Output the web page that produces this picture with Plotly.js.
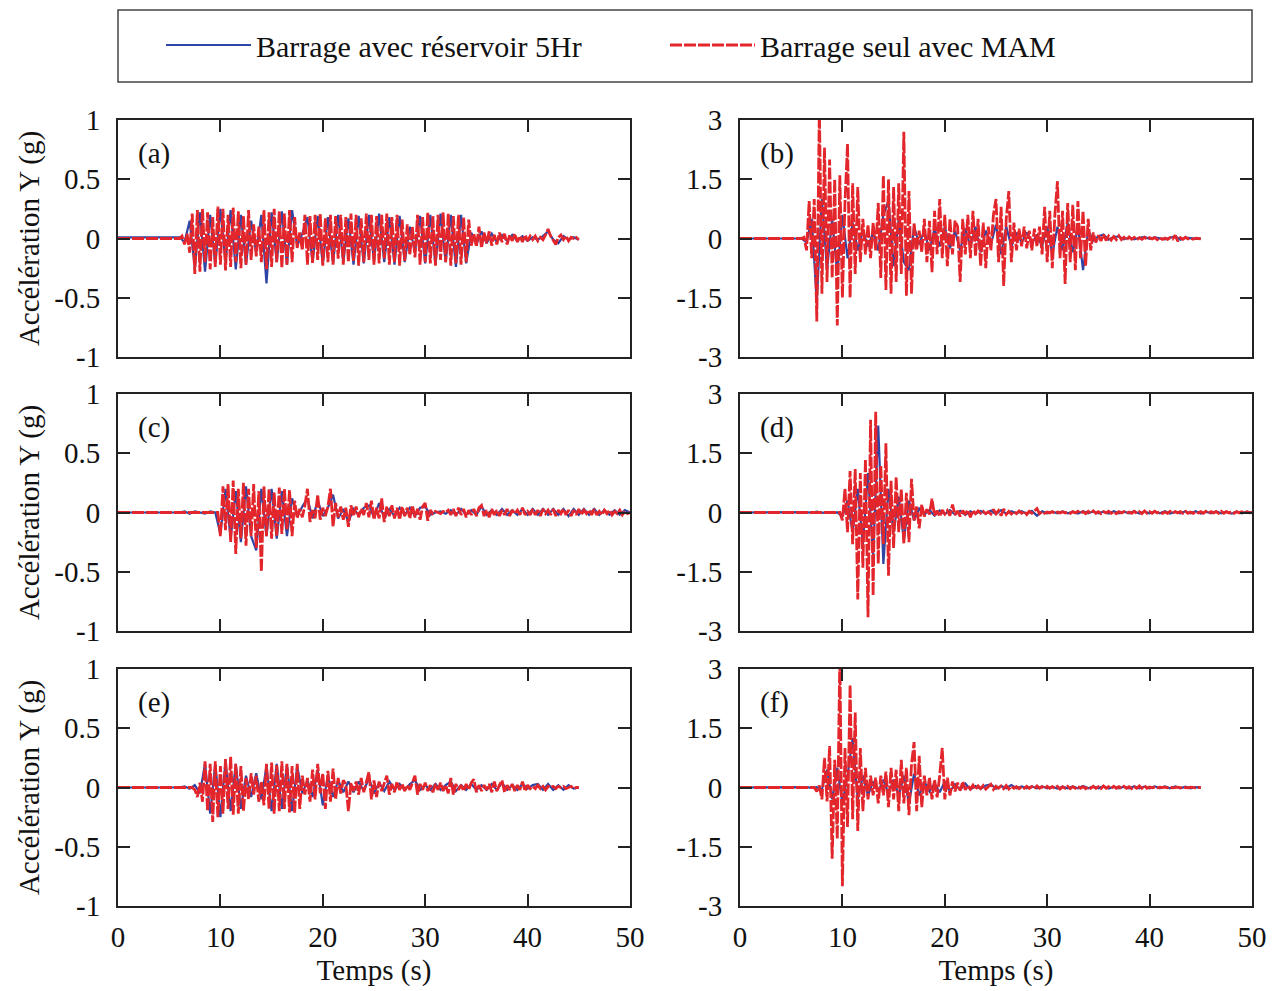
<!DOCTYPE html>
<html><head><meta charset="utf-8">
<script src="https://cdn.plot.ly/plotly-3.0.1.min.js"></script>
<style>html,body{margin:0;padding:0;background:#fff}#chart{width:1273px;height:991px}</style>
</head><body><div id="chart"></div>
<script>
// ---------- labels ----------
const panelLabels = ['(a)', '(b)', '(c)', '(d)', '(e)', '(f)'];
const seriesNames = ['Barrage avec réservoir 5Hr', 'Barrage seul avec MAM'];
const xTickVals = [0, 10, 20, 30, 40, 50];
const xTickText = ['0', '10', '20', '30', '40', '50'];
const yTickValsLeft = [-1, -0.5, 0, 0.5, 1];
const yTickTextLeft = ['-1', '-0.5', '0', '0.5', '1'];
const yTickValsRight = [-3, -1.5, 0, 1.5, 3];
const yTickTextRight = ['-3', '-1.5', '0', '1.5', '3'];
const xTitle = 'Temps (s)';
const yTitle = 'Accélération Y (g)';

// ---------- sampling (s) ----------
const redStep = 0.25;   // MAM series sampled every 0.25 s
const blueStep = 0.5;   // reservoir series sampled every 0.5 s
const recordStart = 0;  // signal holds its first value back to t = 0

// ---------- (a) ----------
const redStartA = 6;
const redA = [
 0, 0.02, -0.05, 0.04,
 -0.12, 0.21, -0.3, 0.24,
 -0.28, 0.25, -0.2, 0.22,
 -0.26, 0.18, -0.24, 0.27,
 -0.22, 0.25, -0.27, 0.2,
 -0.24, 0.26, -0.2, 0.23,
 -0.25, 0.19, -0.22, 0.24,
 -0.18, 0.12, -0.15, 0.1,
 -0.2, 0.24, -0.26, 0.22,
 -0.24, 0.25, -0.2, 0.23,
 -0.25, 0.21, -0.22, 0.24,
 -0.2, 0.18, -0.08, 0.05,
 -0.1, 0.2, -0.22, 0.19,
 -0.21, 0.2, -0.18, 0.21,
 -0.23, 0.17, -0.2, 0.2,
 -0.22, 0.19, -0.17, 0.2,
 -0.22, 0.18, -0.2, 0.21,
 -0.19, 0.2, -0.23, 0.17,
 -0.2, 0.21, -0.18, 0.2,
 -0.22, 0.19, -0.21, 0.2,
 -0.17, 0.21, -0.22, 0.18,
 -0.2, 0.2, -0.23, 0.16,
 -0.19, 0.12, -0.14, 0.1,
 -0.16, 0.2, -0.22, 0.18,
 -0.2, 0.22, -0.21, 0.19,
 -0.23, 0.2, -0.18, 0.22,
 -0.2, 0.21, -0.23, 0.19,
 -0.21, 0.2, -0.22, 0.18,
 -0.2, 0.16, -0.06, 0.04,
 -0.07, 0.1, -0.08, 0.05,
 -0.04, 0.06, -0.06, 0.03,
 -0.05, 0.05, -0.03, 0.04,
 -0.05, 0.03, -0.02, 0.04,
 -0.03, 0.02, -0.03, 0.03,
 -0.02, 0.02, -0.01, 0.02,
 -0.02, 0.01, -0.01, 0.03,
 0.08, 0.02, -0.02, -0.05,
 0.01, 0.03, -0.01, 0.02,
 -0.02, 0.01, 0, 0.01,
 -0.01
];
const blueStartA = 6;
const blueA = [
 0.01, -0.03, 0.15, -0.25, 0.22, -0.28, 0.2, -0.22, 0.25, -0.2,
 0.24, -0.26, 0.2, -0.22, 0.15, -0.12, 0.2, -0.38, 0.22, -0.2,
 0.23, -0.22, 0.24, -0.06, 0.04, 0.18, -0.2, 0.19, -0.22, 0.18,
 -0.21, 0.2, -0.2, 0.17, -0.22, 0.19, -0.21, 0.2, -0.19, 0.21,
 -0.2, 0.18, -0.22, 0.19, -0.2, 0.1, -0.12, 0.19, -0.21, 0.2,
 -0.22, 0.21, -0.2, 0.2, -0.24, 0.2, -0.21, 0.05, -0.05, 0.06,
 -0.04, 0.04, -0.03, 0.03, -0.02, 0.03, -0.02, 0.02, -0.02, 0.01,
 -0.01, 0.02, 0.06, -0.01, -0.04, 0.02, -0.01, 0.01, -0.01
];

// ---------- (b) ----------
const redStartB = 6;
const redB = [
 0, 0.03, -0.3, 0.95,
 -0.5, 1.0, -2.1, 3.3,
 -1.4, 2.3, -1.1, 2.0,
 -1.0, 1.5, -2.2, 1.6,
 -1.5, 0.9, 2.4, -1.5,
 1.4, -0.9, 1.3, -0.6,
 0.5, -0.4, 0.35, -0.5,
 0.4, -0.3, 0.9, -1.0,
 1.6, -1.3, 1.5, -1.4,
 1.3, -1.1, 1.4, -0.9,
 2.7, -1.45, 1.2, -1.4,
 0.4, -0.3, 0.2, -0.35,
 0.5, -0.6, 0.45, -0.85,
 0.7, -0.4, 1.0, -0.5,
 0.6, -0.7, 0.5, -0.4,
 0.45, 0.3, -1.1, 0.5,
 -0.4, 0.6, -0.5, 0.7,
 -0.45, 0.5, -0.7, 0.4,
 -0.75, 0.3, -0.3, 0.6,
 1.0, -0.6, 0.8, -1.2,
 0.5, 1.2, -0.6, 0.4,
 -0.3, 0.25, -0.2, 0.3,
 -0.25, 0.2, -0.3, 0.25,
 -0.2, 0.3, -0.4, 0.8,
 -0.6, 0.7, -0.75, 0.6,
 1.45, -0.5, 0.7, -1.15,
 0.9, -0.6, 0.85, -0.8,
 0.95, -0.5, 0.7, -0.7,
 0.5, -0.3, 0.15, -0.1,
 0.08, -0.06, 0.1, -0.05,
 0.06, -0.04, 0.05, -0.03,
 0.07, -0.03, 0.03, -0.04,
 0.04, -0.02, 0.03, -0.03,
 0.02, -0.02, 0.03, -0.02,
 0.02, -0.01, 0.02, -0.03,
 0.02, -0.02, 0.01, -0.02,
 0.02, -0.01, 0.08, -0.07,
 0.02, -0.02, 0.03, -0.01,
 0.01, -0.02, 0.01, 0,
 -0.01
];
const blueStartB = 6;
const blueB = [
 0, -0.1, 0.5, -1.6, 1.0, -0.8, 0.5, -0.9, 0.6, -0.5,
 0.4, -0.3, 0.2, -0.2, 0.15, -0.3, 0.6, 0.95, -0.7, 0.5,
 -0.6, -0.8, 0.3, -0.15, 0.2, -0.3, 0.25, -0.2, 0.3, -0.25,
 0.2, -0.3, 0.25, -0.2, 0.3, -0.35, 0.2, -0.15, 0.35, -0.4,
 0.3, -0.2, 0.15, -0.1, 0.15, -0.12, 0.1, -0.2, 0.3, -0.4,
 0.3, -0.3, 0.4, -0.35, 0.3, -0.8, 0.2, -0.05, 0.06, 0.1,
 -0.03, 0.04, 0.05, -0.02, 0.03, -0.02, 0.02, 0.04, -0.01, 0.03,
 0.01, -0.02, 0.02, 0.06, -0.03, 0.02, 0.01, -0.01, 0
];

// ---------- (c) ----------
const redStartC = 9;
const redC = [
 0, 0, 0, 0,
 -0.2, 0.22, -0.15, 0.24,
 -0.25, 0.27, -0.35, 0.2,
 -0.22, 0.25, -0.28, 0.2,
 -0.2, 0.24, -0.3, 0.18,
 -0.5, 0.22, -0.2, 0.2,
 -0.22, 0.17, -0.2, 0.21,
 -0.18, 0.2, -0.15, 0.19,
 -0.2, 0.1, -0.05, 0.03,
 -0.04, 0.06, 0.2, -0.08,
 0.02, -0.05, 0.15, -0.06,
 0.04, -0.03, 0.05, 0.2,
 -0.12, 0.08, -0.04, 0.05,
 -0.06, 0.04, -0.12, 0.06,
 -0.03, 0.05, -0.04, 0.03,
 -0.02, 0.08, -0.04, 0.1,
 -0.06, 0.04, -0.05, 0.12,
 -0.08, 0.05, -0.03, 0.06,
 -0.05, 0.04, -0.06, 0.05,
 -0.03, 0.04, -0.05, 0.06,
 -0.04, 0.03, -0.06, 0.05,
 0.08, -0.07, 0.02, -0.01,
 0.01, 0, -0.01, 0.01,
 0, 0.02, -0.02, 0.03,
 -0.03, 0.04, -0.02, 0.03,
 -0.04, 0.02, -0.02, 0.03,
 -0.03, 0.04, 0.06, -0.03,
 0.02, -0.04, 0.03, -0.02,
 0.02, -0.03, 0.02, -0.02,
 0.03, -0.03, 0.02, -0.01,
 0.02, -0.02, 0.04, -0.02,
 0.01, -0.02, 0.03, -0.02,
 0.02, -0.03, 0.03, -0.01,
 0.02, -0.02, 0.03, -0.03,
 0.02, -0.01, 0.03, -0.02,
 0.02, -0.03, 0.02, -0.02,
 0.03, -0.02, 0.02, -0.01,
 0.02, -0.02, 0.03, -0.02,
 0.01, -0.02, 0.02, -0.01,
 0.02, -0.02, 0.01, -0.01,
 0.02, -0.02, 0.01, -0.01,
 0
];
const blueStartC = 6;
const blueC = [
 0, 0.01, -0.01, 0.01, 0, -0.01, 0.01, 0, -0.18, 0.2,
 -0.22, 0.18, -0.25, 0.22, -0.2, -0.32, 0.2, -0.2, 0.2, -0.22,
 0.18, -0.2, 0.12, -0.03, 0.05, 0.12, -0.05, 0.1, -0.03, 0.04,
 0.15, -0.05, 0.03, -0.08, 0.03, -0.02, 0.04, 0.06, -0.04, 0.08,
 -0.05, 0.03, -0.03, 0.04, -0.02, 0.04, -0.03, 0.04, 0.05, -0.02,
 0, 0.01, -0.01, 0.02, -0.02, 0.03, -0.02, 0.02, -0.02, 0.05,
 -0.02, 0.02, -0.02, 0.03, -0.02, 0.02, -0.02, 0.03, -0.02, 0.03,
 -0.02, 0.03, -0.02, 0.03, -0.02, 0.03, -0.03, 0.03, -0.02, 0.03,
 -0.02, 0.03, -0.02, 0.02, -0.02, 0.02, -0.02, 0.02, 0
];

// ---------- (d) ----------
const redStartD = 9;
const redD = [
 0, 0, 0, 0,
 -0.2, 0.6, -0.5, 1.05,
 -0.8, 1.1, -2.2, 1.0,
 -1.4, 1.35, -2.65, 2.35,
 -2.1, 2.55, -1.3, 1.2,
 -0.8, 1.75, -1.6, 0.8,
 -0.9, 0.9, -0.5, 0.6,
 -0.8, 0.5, -0.75, 0.85,
 -0.2, 0.15, -0.4, 0.2,
 -0.1, 0.08, -0.05, 0.35,
 -0.08, 0.05, -0.1, 0.06,
 -0.04, 0.05, -0.08, 0.2,
 -0.06, 0.04, -0.1, 0.05,
 -0.04, 0.06, -0.12, 0.05,
 -0.03, 0.04, -0.02, 0.03,
 -0.03, 0.02, -0.04, 0.08,
 -0.03, 0.05, -0.08, 0.09,
 -0.05, 0.03, -0.04, 0.02,
 -0.03, 0.04, -0.02, 0.03,
 -0.05, 0.03, -0.02, 0.04,
 0.1, -0.03, 0.02, -0.02,
 0.01, -0.01, 0.02, -0.02,
 0.01, -0.01, 0.02, -0.01,
 0.01, -0.02, 0.02, -0.01,
 0.03, -0.02, 0.02, -0.03,
 0.03, -0.02, 0.04, -0.02,
 0.02, -0.03, 0.02, -0.01,
 0.03, -0.02, 0.02, -0.03,
 0.02, -0.01, 0.02, -0.02,
 0.01, -0.02, 0.03, -0.02,
 0.02, -0.03, 0.04, -0.02,
 0.02, -0.02, 0.03, -0.01,
 0.02, -0.02, 0.01, -0.02,
 0.03, -0.02, 0.02, -0.01,
 0.02, -0.02, 0.03, -0.02,
 0.01, -0.02, 0.02, -0.01,
 0.02, -0.02, 0.03, -0.02,
 0.02, -0.01, 0.02, -0.02,
 0.03, -0.02, 0.02, -0.01,
 0.02, -0.02, 0.02, -0.01,
 0.02, -0.01, 0.02, -0.01,
 0
];
const blueStartD = 6;
const blueD = [
 0, 0.01, -0.01, 0.02, -0.01, 0.01, -0.01, 0, -0.1, 0.3,
 -0.5, 0.6, -0.8, 1.0, -1.1, 2.2, -1.3, 0.6, -0.5, 0.4,
 -0.7, 0.3, -0.2, 0.1, -0.05, 0.06, -0.08, 0.05, -0.04, 0.06,
 -0.05, 0.04, -0.06, 0.03, -0.03, 0.04, -0.03, 0.05, -0.04, 0.06,
 -0.03, 0.03, -0.02, 0.03, -0.03, 0.04, -0.08, 0.03, -0.02, 0.02,
 -0.02, 0.03, -0.02, 0.02, -0.03, 0.03, -0.02, 0.03, -0.02, 0.02,
 -0.03, 0.03, -0.02, 0.02, -0.02, 0.03, -0.03, 0.02, -0.02, 0.03,
 -0.02, 0.03, -0.03, 0.02, -0.02, 0.03, -0.02, 0.03, -0.03, 0.02,
 -0.02, 0.03, -0.02, 0.02, -0.03, 0.02, -0.02, 0.02, 0
];

// ---------- (e) ----------
const redStartE = 7;
const redE = [
 0, 0, -0.02, -0.08,
 0.04, -0.12, 0.22, -0.2,
 0.2, -0.29, 0.22, -0.25,
 0.18, -0.22, 0.24, -0.18,
 0.26, -0.23, 0.2, -0.22,
 0.18, -0.2, 0.08, -0.1,
 0.12, -0.06, 0.1, -0.12,
 0.05, -0.15, 0.2, -0.18,
 0.21, -0.22, 0.19, -0.2,
 0.22, -0.18, 0.2, -0.21,
 0.18, -0.22, 0.2, -0.18,
 0.1, -0.06, 0.08, -0.12,
 0.15, -0.1, 0.2, -0.05,
 0.12, -0.18, 0.14, -0.12,
 0.16, -0.1, 0.08, -0.05,
 0.06, 0.03, -0.2, 0.04,
 -0.03, 0.05, -0.06, 0.08,
 -0.04, 0.05, 0.13, -0.1,
 0.06, -0.08, 0.05, -0.03,
 0.04, 0.1, -0.06, 0.03,
 -0.04, 0.05, -0.02, 0.03,
 -0.03, 0.02, -0.02, 0.04,
 0.1, -0.06, 0.03, -0.02,
 0.04, -0.03, 0.02, -0.04,
 0.03, -0.02, 0.04, -0.03,
 0.02, -0.05, 0.08, -0.06,
 0.03, -0.02, 0.02, -0.03,
 0.03, -0.02, 0.04, 0.07,
 -0.04, 0.02, -0.03, 0.02,
 -0.02, 0.03, -0.04, 0.05,
 -0.03, 0.02, 0.06, -0.04,
 0.02, -0.02, 0.03, -0.03,
 0.02, -0.02, 0.05, -0.03,
 0.02, -0.01, 0.01, -0.01,
 0.02, -0.01, 0.01, -0.02,
 0.01, 0, 0.01, -0.01,
 0.01, 0, 0.01, -0.01,
 0, 0.01, -0.01, 0,
 0
];
const blueStartE = 6;
const blueE = [
 0, 0.01, -0.01, 0.02, -0.05, 0.2, -0.22, 0.2, -0.25, 0.22,
 -0.2, 0.2, -0.18, 0.1, -0.08, 0.12, -0.1, 0.18, -0.2, 0.2,
 -0.18, 0.19, -0.2, 0.18, -0.05, 0.06, -0.08, 0.15, -0.15, 0.1,
 -0.08, 0.06, -0.04, 0.05, -0.04, 0.05, -0.03, 0.08, -0.05, 0.04,
 -0.03, 0.05, -0.02, 0.03, -0.02, 0.03, 0.06, -0.02, 0.02, -0.02,
 0.03, -0.02, 0.02, 0.05, -0.03, 0.02, -0.02, 0.03, -0.02, 0.02,
 -0.02, 0.03, -0.02, 0.04, -0.02, 0.02, -0.02, 0.03, -0.01, 0.02,
 0.03, -0.02, 0.03, -0.02, 0.02, -0.02, 0.02, -0.01, 0
];

// ---------- (f) ----------
const redStartF = 7;
const redF = [
 0, 0, -0.1, 0.05,
 -0.3, 0.75, -0.35, 1.05,
 -1.8, 0.7, -1.3, 3.3,
 -2.5, 1.0, -1.0, 2.6,
 -0.8, 1.9, -1.1, 1.0,
 -0.6, 0.5, -0.3, 0.3,
 -0.2, 0.25, -0.4, 0.3,
 -0.2, 0.4, -0.5, 0.5,
 -0.3, 0.45, -0.6, 0.7,
 -0.4, 0.5, -0.7, 0.6,
 1.15, -0.6, 0.8, -0.5,
 0.3, -0.2, 0.25, -0.3,
 0.2, -0.25, 0.3, 1.0,
 -0.3, 0.25, -0.2, 0.15,
 -0.1, 0.12, -0.08, 0.15,
 -0.06, 0.05, -0.04, 0.06,
 -0.05, 0.04, -0.03, 0.05,
 -0.04, 0.03, 0.08, -0.05,
 0.03, -0.02, 0.04, -0.03,
 0.05, -0.04, 0.03, -0.02,
 0.02, -0.03, 0.02, -0.02,
 0.03, -0.02, 0.02, -0.03,
 0.04, -0.02, 0.02, -0.03,
 0.03, -0.02, 0.02, -0.02,
 0.03, -0.04, 0.02, -0.02,
 0.03, -0.03, 0.02, -0.02,
 0.03, -0.02, 0.02, -0.03,
 0.02, -0.02, 0.03, -0.02,
 0.02, -0.03, 0.04, -0.02,
 0.02, -0.02, 0.03, -0.02,
 0.02, -0.02, 0.03, -0.02,
 0.02, -0.03, 0.02, -0.02,
 0.04, -0.02, 0.05, -0.02,
 0.01, -0.01, 0.01, -0.01,
 0.01, 0, 0.01, -0.01,
 0.01, -0.01, 0, 0.01,
 -0.01, 0.01, 0, -0.01,
 0.01, 0, -0.01, 0,
 0
];
const blueStartF = 6;
const blueF = [
 0, 0.01, -0.01, 0.01, -0.05, 0.45, -0.3, 0.5, -0.4, 0.3,
 1.25, -0.3, 0.3, -0.2, 0.15, -0.1, 0.2, -0.15, 0.2, -0.2,
 0.3, -0.4, 0.35, -0.2, 0.15, -0.1, 0.1, -0.12, 0.15, -0.1,
 0.08, -0.06, 0.1, -0.05, 0.04, -0.03, 0.05, 0.08, -0.03, 0.04,
 -0.02, 0.06, -0.02, 0.03, -0.02, 0.03, -0.02, 0.03, -0.02, 0.02,
 -0.03, 0.02, -0.02, 0.03, -0.02, 0.04, -0.02, 0.02, -0.02, 0.03,
 -0.03, 0.02, -0.02, 0.02, -0.02, 0.03, -0.02, 0.02, -0.02, 0.03,
 -0.02, 0.03, -0.02, 0.03, -0.02, 0.02, -0.02, 0.01, 0
];

// ---------- styling ----------
const FONT = 'Liberation Serif, Times New Roman, serif';
const BLUE = '#2f45a6';
const RED = '#e3262b';
const W = 1273, H = 991;

function series(start, step, vals) {
  const x = [recordStart], y = [vals[0]];
  vals.forEach((v, i) => { x.push(start + i * step); y.push(v); });
  return { x, y };
}

const panels = [
  { red: series(redStartA, redStep, redA), blue: series(blueStartA, blueStep, blueA) },
  { red: series(redStartB, redStep, redB), blue: series(blueStartB, blueStep, blueB) },
  { red: series(redStartC, redStep, redC), blue: series(blueStartC, blueStep, blueC) },
  { red: series(redStartD, redStep, redD), blue: series(blueStartD, blueStep, blueD) },
  { red: series(redStartE, redStep, redE), blue: series(blueStartE, blueStep, blueE) },
  { red: series(redStartF, redStep, redF), blue: series(blueStartF, blueStep, blueF) }
];

const traces = [];
panels.forEach((p, i) => {
  const ax = i === 0 ? '' : String(i + 1);
  traces.push({ type: 'scatter', mode: 'lines', x: p.blue.x, y: p.blue.y, xaxis: 'x' + ax, yaxis: 'y' + ax,
    name: seriesNames[0], legendgroup: 'blue', showlegend: i === 0,
    line: { color: BLUE, width: 2.2 }, hoverinfo: 'skip' });
});
panels.forEach((p, i) => {
  const ax = i === 0 ? '' : String(i + 1);
  traces.push({ type: 'scatter', mode: 'lines', x: p.red.x, y: p.red.y, xaxis: 'x' + ax, yaxis: 'y' + ax,
    name: seriesNames[1], legendgroup: 'red', showlegend: i === 0,
    line: { color: RED, width: 2.8, dash: '12px,2px' }, hoverinfo: 'skip' });
});

// pixel geometry of plot frames
const colX = [[118, 630], [740, 1252]];
const rowY = [[120, 357], [394, 631], [669, 906]];

const layout = {
  width: W, height: H,
  margin: { l: 0, r: 0, t: 0, b: 0 },
  paper_bgcolor: '#fff', plot_bgcolor: '#fff',
  font: { family: FONT, size: 29, color: '#111' },
  showlegend: true,
  legend: {
    orientation: 'h', x: 161 / W, y: 1 - 45 / H, xanchor: 'left', yanchor: 'middle',
    font: { family: FONT, size: 30, color: '#111' }, bgcolor: 'rgba(0,0,0,0)', borderwidth: 0,
    entrywidth: 404, entrywidthmode: 'pixels', itemwidth: 85, tracegroupgap: 0
  },
  shapes: [{ type: 'rect', xref: 'paper', yref: 'paper', x0: 118 / W, x1: 1252 / W, y0: 1 - 82 / H, y1: 1 - 10 / H,
    line: { color: '#444', width: 1.5 }, fillcolor: 'rgba(0,0,0,0)' }],
  annotations: []
};

for (let i = 0; i < 6; i++) {
  const col = i % 2, row = Math.floor(i / 2);
  const ax = i === 0 ? '' : String(i + 1);
  const bottom = row === 2;
  const left = col === 0;
  layout['xaxis' + ax] = {
    domain: [colX[col][0] / W, colX[col][1] / W], anchor: 'y' + ax, range: [0, 50],
    tickvals: xTickVals, ticktext: xTickText, showticklabels: bottom,
    ticks: 'inside', ticklen: 12, tickwidth: 2, tickcolor: '#222',
    showline: true, linecolor: '#222', linewidth: 2, mirror: 'allticks',
    showgrid: false, zeroline: false, ticklabelstandoff: 4,
    tickfont: { family: FONT, size: 29, color: '#111' },
    title: bottom ? { text: xTitle, font: { family: FONT, size: 29, color: '#111' }, standoff: 8 } : { text: '' },
    fixedrange: true
  };
  layout['yaxis' + ax] = {
    domain: [1 - rowY[row][1] / H, 1 - rowY[row][0] / H], anchor: 'x' + ax,
    range: left ? [-1, 1] : [-3, 3],
    tickvals: left ? yTickValsLeft : yTickValsRight, ticktext: left ? yTickTextLeft : yTickTextRight,
    ticks: 'inside', ticklen: 12, tickwidth: 2, tickcolor: '#222',
    showline: true, linecolor: '#222', linewidth: 2, mirror: 'allticks',
    showgrid: false, zeroline: false, ticklabelstandoff: 10,
    tickfont: { family: FONT, size: 29, color: '#111' },
    title: left ? { text: yTitle, font: { family: FONT, size: 29, color: '#111' }, standoff: 6 } : { text: '' },
    fixedrange: true
  };
  layout.annotations.push({
    xref: 'x' + ax + ' domain', yref: 'y' + ax + ' domain', x: 0.035, y: 0.86,
    xanchor: 'left', yanchor: 'middle', text: panelLabels[i], showarrow: false,
    font: { family: FONT, size: 29, color: '#111' }
  });
}

Plotly.newPlot('chart', traces, layout, { staticPlot: true, displayModeBar: false });
</script>
</body></html>
